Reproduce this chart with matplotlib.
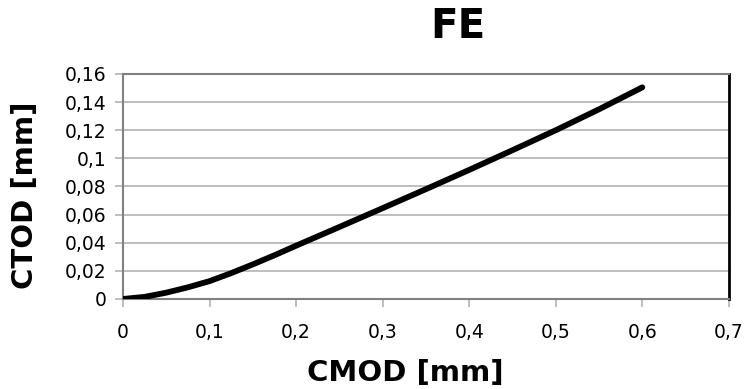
import matplotlib
matplotlib.use("Agg")
import matplotlib.pyplot as plt
from matplotlib.ticker import FuncFormatter

cmod = [0.0, 0.025, 0.05, 0.075, 0.1, 0.125, 0.15, 0.175, 0.2, 0.25, 0.3, 0.35, 0.4, 0.45, 0.5, 0.55, 0.6]
ctod = [0.0, 0.0015, 0.0045, 0.0083, 0.0127, 0.0184, 0.0246, 0.0311, 0.0379, 0.0512, 0.0646, 0.0781, 0.0918, 0.1058, 0.1200, 0.1349, 0.1505]

xticks = [0, 0.1, 0.2, 0.3, 0.4, 0.5, 0.6, 0.7]
yticks = [0, 0.02, 0.04, 0.06, 0.08, 0.1, 0.12, 0.14, 0.16]

fig = plt.figure(figsize=(7.46, 3.89), dpi=100)
ax = fig.add_axes([0.1649, 0.2314, 0.977 - 0.1649, 0.8098 - 0.2314])

ax.plot(cmod, ctod, color='black', lw=4.2, solid_capstyle='round', zorder=3)
ax.set_xlim(0, 0.7)
ax.set_ylim(0, 0.16)
ax.set_xticks(xticks)
ax.set_yticks(yticks)

def fmt(v, pos):
    s = ('%.2f' % v).rstrip('0').rstrip('.')
    return s.replace('.', ',')

ax.xaxis.set_major_formatter(FuncFormatter(fmt))
ax.yaxis.set_major_formatter(FuncFormatter(fmt))
ax.grid(axis='y', color='#b3b3b3', lw=1.2)
ax.set_axisbelow(True)
for s in ['left', 'top', 'bottom']:
    ax.spines[s].set_color('#808080')
    ax.spines[s].set_linewidth(1.5)
ax.spines['right'].set_color('black')
ax.spines['right'].set_linewidth(2)
ax.tick_params(axis='both', colors='#b3b3b3', length=6, width=1.2, labelcolor='black',
               labelsize=13.5)
for lab in ax.get_xticklabels() + ax.get_yticklabels():
    lab.set_family('DejaVu Sans')
ax.tick_params(axis='x', pad=11)
ax.tick_params(axis='y', pad=6)

fig.text(0.614, 0.93, 'FE', ha='center', va='center', fontsize=29, fontweight='heavy', family='DejaVu Sans')
fig.text(0.543, 0.021, 'CMOD [mm]', ha='center', va='baseline', fontsize=21, fontweight='heavy', family='DejaVu Sans')
fig.text(0.034, 0.499, 'CTOD [mm]', ha='center', va='center', rotation=90, fontsize=21, fontweight='heavy', family='DejaVu Sans')

fig.savefig('out.png', dpi=100)
